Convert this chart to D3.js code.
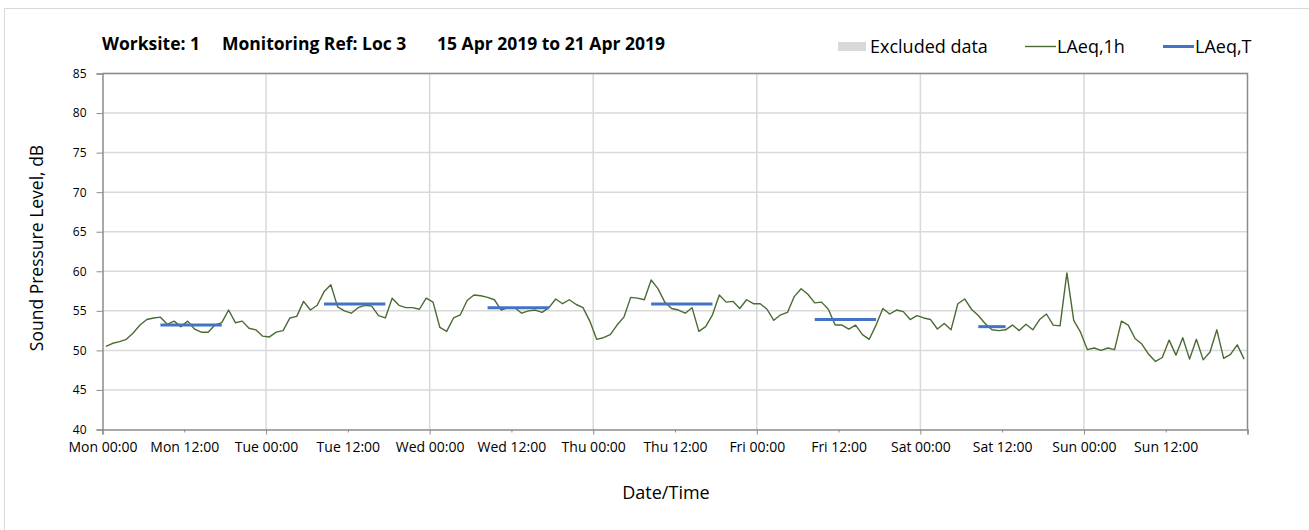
<!DOCTYPE html>
<html>
<head>
<meta charset="utf-8">
<script src="https://cdn.jsdelivr.net/npm/d3@7"></script>
<style>
  body { margin: 0; background: #fff; }
  text { font-family: "Open Sans", Lato, sans-serif; fill: #000; }
</style>
</head>
<body>
<div id="chart"></div>
<script>
// hourly LAeq,1h values, Mon 00:00 .. Sun 23:00
var laeq1h = [
  50.5, 50.9, 51.1, 51.4, 52.2, 53.2, 53.9, 54.1, 54.2, 53.3, 53.7, 53.0, 53.7, 52.7, 52.3, 52.3, 53.2, 53.5, 55.1, 53.5, 53.7, 52.8, 52.6, 51.8,
  51.7, 52.3, 52.5, 54.1, 54.3, 56.2, 55.1, 55.7, 57.4, 58.3, 55.5, 55.0, 54.7, 55.4, 55.7, 55.6, 54.4, 54.1, 56.6, 55.7, 55.4, 55.4, 55.2, 56.6,
  56.1, 52.9, 52.4, 54.1, 54.5, 56.3, 57.0, 56.9, 56.7, 56.4, 55.1, 55.4, 55.4, 54.7, 55.0, 55.1, 54.8, 55.4, 56.5, 55.9, 56.4, 55.8, 55.4, 53.7,
  51.4, 51.6, 52.0, 53.2, 54.2, 56.7, 56.6, 56.4, 58.9, 57.8, 56.1, 55.3, 55.1, 54.7, 55.4, 52.4, 53.0, 54.5, 57.0, 56.1, 56.2, 55.3, 56.4, 55.9,
  55.9, 55.2, 53.8, 54.5, 54.8, 56.8, 57.8, 57.1, 56.0, 56.1, 55.2, 53.2, 53.2, 52.7, 53.2, 52.0, 51.4, 53.2, 55.3, 54.6, 55.1, 54.9, 53.9, 54.4,
  54.1, 53.9, 52.7, 53.4, 52.6, 55.9, 56.5, 55.2, 54.4, 53.4, 52.6, 52.5, 52.6, 53.2, 52.5, 53.3, 52.6, 53.9, 54.6, 53.2, 53.1, 59.8, 53.8, 52.3,
  50.1, 50.3, 50.0, 50.3, 50.1, 53.7, 53.2, 51.5, 50.8, 49.5, 48.6, 49.1, 51.3, 49.4, 51.6, 48.9, 51.4, 48.8, 49.8, 52.6, 49.0, 49.5, 50.7, 48.9
];

// LAeq,T periods: first and last hour index, level
var periodStart = [8, 32, 56, 80, 104, 128];
var periodEnd   = [17, 41, 65, 89, 113, 132];
var periodLevel = [53.2, 55.85, 55.4, 55.85, 53.9, 53.0];

var tickHours  = [0, 12, 24, 36, 48, 60, 72, 84, 96, 108, 120, 132, 144, 156];
var tickLabels = ["Mon 00:00", "Mon 12:00", "Tue 00:00", "Tue 12:00", "Wed 00:00", "Wed 12:00", "Thu 00:00",
                  "Thu 12:00", "Fri 00:00", "Fri 12:00", "Sat 00:00", "Sat 12:00", "Sun 00:00", "Sun 12:00"];
var yTicks = [40, 45, 50, 55, 60, 65, 70, 75, 80, 85];

var width = 1309, height = 530;
var plotLeft = 102.5, plotRight = 1247.5, plotTop = 73.5, plotBottom = 429.5;

var svg = d3.select('#chart').append('svg')
    .attr('width', width)
    .attr('height', height);

// outer chart border
svg.append('rect')
    .attr('x', 4.5).attr('y', 8.5)
    .attr('width', 1320).attr('height', 540)
    .style('fill', '#fff')
    .style('stroke', '#d9d9d9');

var x = d3.scaleLinear().domain([0, 168]).range([plotLeft, plotRight]);
var y = d3.scaleLinear().domain([40, 85]).range([plotBottom, plotTop]);

// horizontal gridlines
svg.append('g').selectAll('line').data(yTicks.slice(1))
    .enter().append('line')
    .attr('x1', plotLeft).attr('x2', plotRight)
    .attr('y1', function(d) { return y(d); })
    .attr('y2', function(d) { return y(d); })
    .style('stroke', '#d9d9d9').style('stroke-width', 1.5);

// vertical gridlines at midnight
svg.append('g').selectAll('line').data([24, 48, 72, 96, 120, 144])
    .enter().append('line')
    .attr('x1', function(d) { return x(d); })
    .attr('x2', function(d) { return x(d); })
    .attr('y1', plotTop).attr('y2', plotBottom)
    .style('stroke', '#d9d9d9').style('stroke-width', 1.5);

// plot border (top + right)
svg.append('path')
    .attr('d', 'M' + plotLeft + ',' + plotTop + 'H' + plotRight + 'V' + plotBottom)
    .style('fill', 'none').style('stroke', '#8c8c8c').style('stroke-width', 1.5);

// y axis
var yAxis = svg.append('g')
    .attr('transform', 'translate(' + plotLeft + ',0)')
    .call(d3.axisLeft(y).tickValues(yTicks).tickSize(6).tickPadding(10));
yAxis.select('.domain').style('stroke', '#8c8c8c').style('stroke-width', 1.5);
yAxis.selectAll('.tick line').style('stroke', '#8c8c8c');
yAxis.selectAll('.tick text').style('font-size', '12px').style('font-family', '"Open Sans", sans-serif');

// x axis
var xAxis = svg.append('g')
    .attr('transform', 'translate(0,' + plotBottom + ')')
    .call(d3.axisBottom(x).tickValues(tickHours.concat([168]))
        .tickSize(5).tickPadding(8)
        .tickFormat(function(d, i) { return tickLabels[i] || ''; }));
xAxis.select('.domain').style('stroke', '#8c8c8c').style('stroke-width', 1.5);
xAxis.selectAll('.tick line').style('stroke', '#8c8c8c')
    .attr('y2', function(d) { return d % 24 === 0 ? 5 : 3; });
xAxis.selectAll('.tick text').style('font-size', '14px').style('font-family', '"Open Sans", sans-serif');

// LAeq,1h line
var line = d3.line()
    .x(function(d, i) { return x(i + 0.5); })
    .y(function(d) { return y(d); });

svg.append('path')
    .datum(laeq1h)
    .attr('d', line)
    .style('fill', 'none')
    .style('stroke', '#4a6b34')
    .style('stroke-width', 1.4)
    .style('stroke-linejoin', 'round');

// LAeq,T segments
svg.append('g').selectAll('line').data(periodLevel)
    .enter().append('line')
    .attr('x1', function(d, i) { return x(periodStart[i] + 0.5); })
    .attr('x2', function(d, i) { return x(periodEnd[i] + 0.5); })
    .attr('y1', function(d) { return y(d); })
    .attr('y2', function(d) { return y(d); })
    .style('stroke', '#4472c4')
    .style('stroke-width', 3);

// title
var title = svg.append('g').style('font-size', '17.5px').style('font-weight', 'bold');
title.append('text').attr('x', 102).attr('y', 50).text('Worksite: 1');
title.append('text').attr('x', 222).attr('y', 50).text('Monitoring Ref: Loc 3');
title.append('text').attr('x', 437).attr('y', 50).text('15 Apr 2019 to 21 Apr 2019');

// legend
var lg = svg.append('g').style('font-size', '18px');
lg.append('rect').attr('x', 838).attr('y', 42).attr('width', 28).attr('height', 9).style('fill', '#d9d9d9');
lg.append('text').attr('x', 870).attr('y', 53).text('Excluded data');
lg.append('line').attr('x1', 1025).attr('x2', 1056).attr('y1', 46.5).attr('y2', 46.5)
    .style('stroke', '#4a6b34').style('stroke-width', 1.4);
lg.append('text').attr('x', 1057).attr('y', 53).text('LAeq,1h');
lg.append('line').attr('x1', 1163).attr('x2', 1194).attr('y1', 46.5).attr('y2', 46.5)
    .style('stroke', '#4472c4').style('stroke-width', 3);
lg.append('text').attr('x', 1195).attr('y', 53).text('LAeq,T');

// axis titles
svg.append('text')
    .attr('transform', 'translate(43,248) rotate(-90)')
    .attr('text-anchor', 'middle')
    .style('font-size', '17.5px')
    .text('Sound Pressure Level, dB');

svg.append('text')
    .attr('x', 666).attr('y', 499)
    .attr('text-anchor', 'middle')
    .style('font-size', '18px')
    .text('Date/Time');
</script>
</body>
</html>
